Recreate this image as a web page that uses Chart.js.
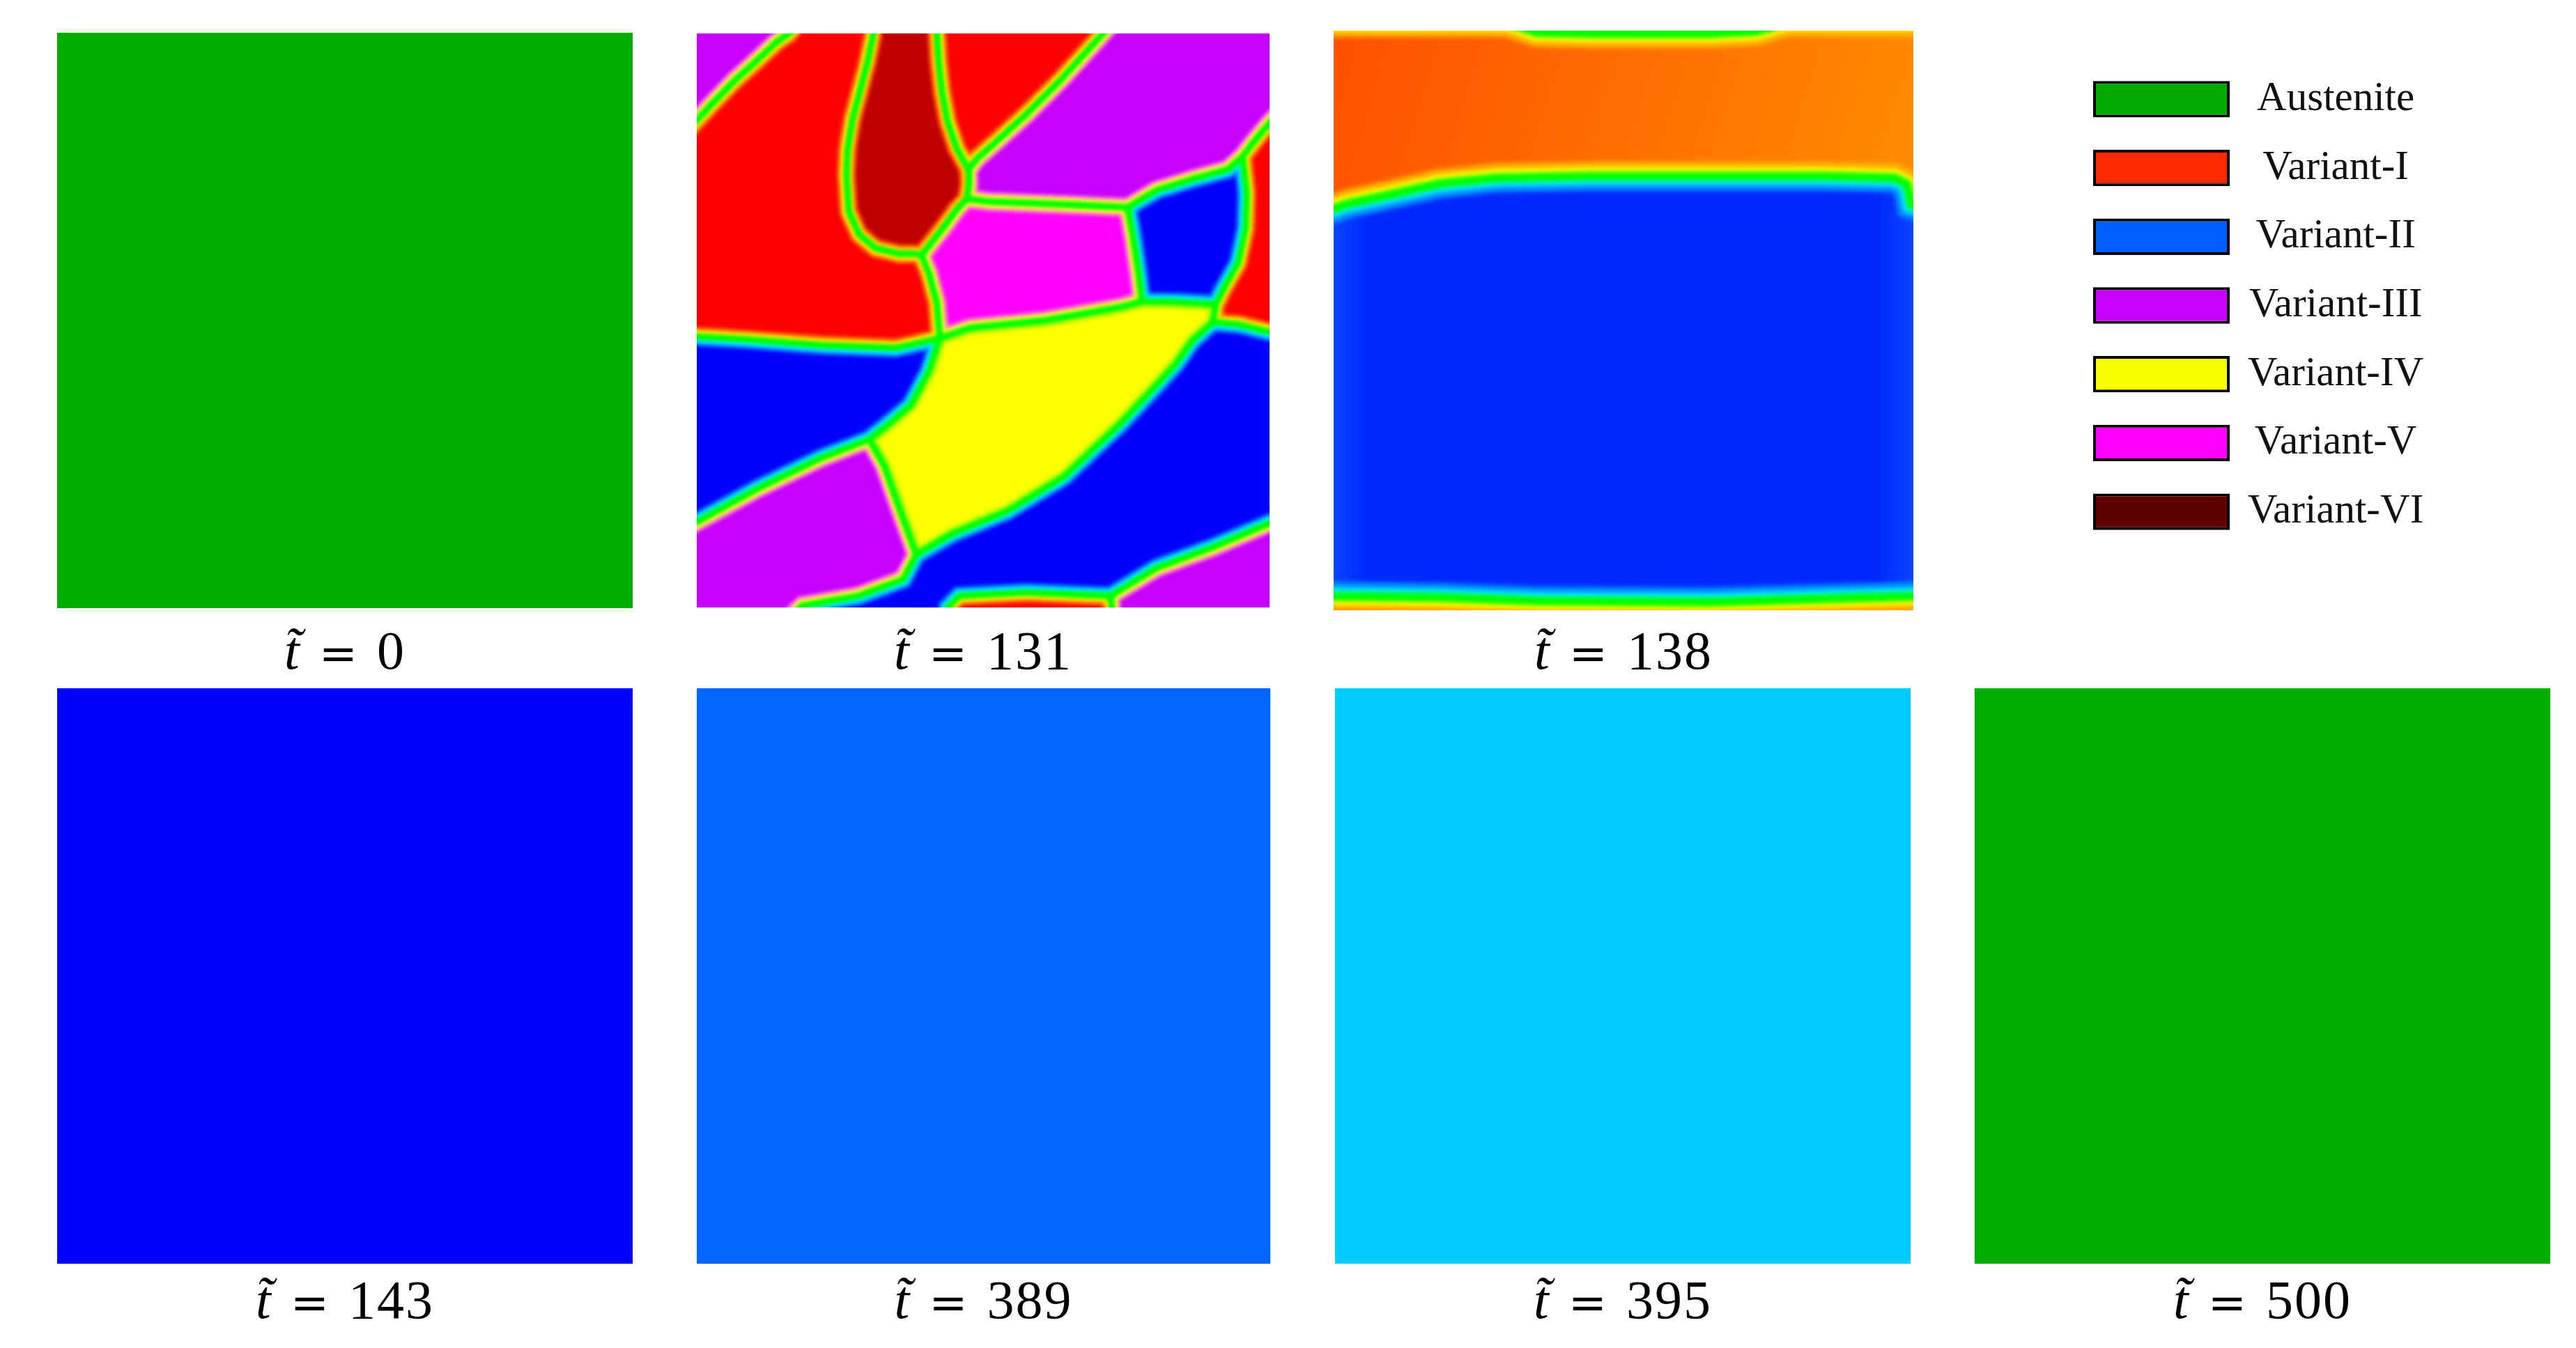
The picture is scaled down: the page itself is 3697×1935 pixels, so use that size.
<!DOCTYPE html>
<html><head><meta charset="utf-8">
<script src="https://cdn.jsdelivr.net/npm/chart.js@4.4.1/dist/chart.umd.min.js"></script>
<style>
html,body{margin:0;padding:0;background:#fff;}
body{width:3697px;height:1935px;position:relative;overflow:hidden;}
canvas{position:absolute;}
.lbl{position:absolute;width:600px;text-align:center;font-family:'Liberation Serif','Times New Roman',serif;font-size:78px;line-height:78px;color:#000;white-space:nowrap;}
.lbl i{font-style:italic;}
.lbl .eq{font-family:'DejaVu Serif',serif;font-size:66px;margin:0 28px;}
.lbl .num{letter-spacing:2px;}
</style></head><body>
<script>
// ---------------- data ----------------
const snapshotTimes = [0, 131, 138, 143, 389, 395, 500];
const phaseNames = ['Austenite','Variant-I','Variant-II','Variant-III','Variant-IV','Variant-V','Variant-VI'];
const legendBarExtent = [1, 1, 1, 1, 1, 1, 1];

// snapshots where one phase fills the whole domain
const uniformTimes = [0, 143, 389, 395, 500];

// domain corners (grid units 0..100, slightly outside the box)
const TL = [-3,-3], TR = [103,-3], BR = [103,103], BL = [-3,103];

// t = 131 : grain boundaries (centre lines, grid units, y downward)
const b131_DE = [[18.5,-3],[16.1,0],[13.8,1.6],[10.6,4.6],[6.6,8.2],[2.7,12.2],[0,15.1],[-3,18.3]];
const b131_AI = [[31.1,-3],[30.8,0],[29.8,4.9],[28.6,9.5],[27.2,14.8],[26.3,20.1],[26.1,24.7],[26.5,31.0],[28.3,35.0],[31.2,37.4],[35.3,38.4],[37.9,38.4],[39.2,38.6]];
const b131_BF = [[41.8,-3],[41.9,0],[42.2,4.9],[42.8,10.2],[43.8,15.5],[45.4,20.1],[47.4,23.7]];
const b131_CF = [[73.6,-3],[70.9,0],[67.9,3.3],[63.4,8.2],[57.5,14.1],[52.3,18.8],[49.0,21.7],[47.4,23.7]];
const b131_FH = [[47.4,23.7],[47.5,26.3],[47.1,28.8]];
const b131_HI = [[47.1,28.8],[45.4,30.6],[43.2,33.6],[40.9,36.5],[39.2,38.6]];
const b131_HM = [[47.1,28.8],[51.0,29.3],[64.0,29.8],[75.2,30.3]];
const b131_IK = [[39.2,38.6],[40.5,41.8],[41.9,47.0],[42.4,53.1]];
const b131_XK = [[-3,52.7],[0,52.8],[8.6,53.3],[21.6,54.3],[34.7,54.8],[42.4,53.1]];
const b131_KP = [[42.4,53.1],[47.7,51.3],[60.8,50.0],[73.8,47.7],[77.7,46.7]];
const b131_MP = [[75.2,30.3],[76.1,35.2],[77.1,41.8],[77.7,46.7]];
const b131_MN = [[75.2,30.3],[80.3,27.3],[86.8,25.3],[92.7,23.7],[95.3,21.4]];
const b131_NE = [[95.3,21.4],[97.3,18.8],[100,15.6],[103,12.5]];
const b131_NQ = [[95.3,21.4],[96.0,27.9],[95.8,34.0],[94.5,40.0],[92.0,44.4],[90.6,47.2]];
const b131_PQ = [[77.7,46.7],[83.6,46.8],[90.6,47.2]];
const b131_QR = [[90.6,47.2],[90.1,50.3]];
const b131_RS = [[90.1,50.3],[94.7,50.7],[100,52.0],[103,52.5]];
const b131_KU = [[42.4,53.1],[40.5,58.9],[37.3,64.8],[33.4,68.1],[30.1,70.7]];
const b131_UW = [[30.1,70.7],[21.6,74.0],[10.6,79.3],[0,85.1],[-3,86.6]];
const b131_UV = [[30.1,70.7],[32.7,75.3],[35.3,82.6],[38.3,90.8]];
const b131_RV = [[90.1,50.3],[86.5,53.5],[83.6,57.6],[78.8,62.8],[73.8,68.1],[64.0,77.3],[54.2,83.2],[44.5,87.2],[38.3,90.8]];
const b131_VB = [[38.3,90.8],[36.0,95.1],[28.2,98.0],[18.4,99.7],[15,103]];
const b131_BY = [[43.5,103],[43.8,100],[45.8,98.0],[57.5,97.4],[72.2,98.0]];
const b131_YB = [[72.2,98.0],[72.8,103]];
const b131_YR = [[72.2,98.0],[80.3,93.1],[90.1,89.5],[100,85.3],[103,84]];

// t = 138 : interfaces
const b138_top = [[-3,-1.4],[30,-1.4],[35,0.3],[45,0.5],[65,0.5],[73,0.1],[78,-1.4],[103,-1.4]];
const b138_mid = [[-3,31.0],[0,30.7],[2.3,29.9],[8.3,28.6],[18.2,26.4],[28.1,25.4],[44.6,25.1],[64.4,25.1],[84.2,25.1],[96.7,25.4],[98.9,26.5],[99.6,30.0],[103,31.0]];
const b138_bot = [[-3,97.6],[0,97.6],[18,97.8],[35,98.4],[65,98.6],[85,98.0],[100,97.6],[103,97.6]];

// ---------------- styles / layout ----------------
const legendColors = ['#00aa00','#ff2a00','#005fff','#c800ff','#f5ff00','#ff00ff','#600000'];
const uniformColors = ['#00ae00','#0000ff','#0066ff','#00ccff','#00ae00'];
const panelLeft = [82, 1000, 1914, 82, 1000, 1916, 2834];
const panelTop  = [47, 48, 44, 988, 988, 988, 988];
const panelW    = [826, 822, 832, 826, 823, 826, 826];
const panelH    = [826, 824, 832, 826, 826, 826, 826];
const labelBaseline = [960, 960, 960, 1892, 1892, 1892, 1892];

// field colour map for the microstructure snapshots: [core, inner halo, outer halo]
const field131 = {
  'Variant-I':   ['#ff0000','#ff7a00','#ffee00'],
  'Variant-II':  ['#0000ff','#0088ff','#00f0ff'],
  'Variant-III': ['#c800ff','#ff88c8','#f4ff20'],
  'Variant-IV':  ['#ffff00','#f0ff00','#b0ff00'],
  'Variant-V':   ['#ff00ff','#ff8ab8','#f4ff20'],
  'Variant-VI':  ['#c00000','#ff5a00','#ffd800']
};

function fw(e){ return e; }
function bw(e){ return e.slice().reverse(); }

const grains131 = [
  ['Variant-III', [[TL], fw(b131_DE)]],
  ['Variant-I',   [bw(b131_DE), fw(b131_AI), fw(b131_IK), bw(b131_XK)]],
  ['Variant-VI',  [bw(b131_AI), fw(b131_BF), fw(b131_FH), fw(b131_HI)]],
  ['Variant-I',   [bw(b131_BF), fw(b131_CF)]],
  ['Variant-III', [bw(b131_CF), [TR], bw(b131_NE), bw(b131_MN), bw(b131_HM), bw(b131_FH)]],
  ['Variant-V',   [fw(b131_HM), fw(b131_MP), bw(b131_KP), bw(b131_IK), bw(b131_HI)]],
  ['Variant-II',  [fw(b131_MN), fw(b131_NQ), bw(b131_PQ), bw(b131_MP)]],
  ['Variant-I',   [fw(b131_NE), bw(b131_RS), bw(b131_QR), bw(b131_NQ)]],
  ['Variant-IV',  [fw(b131_KP), fw(b131_PQ), fw(b131_QR), fw(b131_RV), bw(b131_UV), bw(b131_KU)]],
  ['Variant-II',  [fw(b131_XK), fw(b131_KU), fw(b131_UW)]],
  ['Variant-III', [bw(b131_UW), fw(b131_UV), fw(b131_VB), [BL]]],
  ['Variant-II',  [fw(b131_RS), bw(b131_YR), bw(b131_BY), bw(b131_VB), bw(b131_RV)]],
  ['Variant-III', [fw(b131_YR), [BR], bw(b131_YB)]],
  ['Variant-I',   [fw(b131_BY), fw(b131_YB)]]
];

const grains138 = [
  ['Variant-I',  [fw(b138_top), bw(b138_mid)]],
  ['Variant-II', [fw(b138_mid), bw(b138_bot)]],
  ['Variant-I',  [fw(b138_bot), [BR, BL]]]
];

function orange138(ctx){
  const a = ctx.chart.chartArea; if (!a) return '#ff7000';
  const g = ctx.chart.ctx.createLinearGradient(a.left, a.top, a.right, a.top + (a.bottom-a.top)*0.3);
  g.addColorStop(0, '#ff5000'); g.addColorStop(0.5, '#ff6e00'); g.addColorStop(1, '#ff8c00');
  return g;
}
function blue138(ctx){
  const a = ctx.chart.chartArea; if (!a) return '#0024ff';
  const g = ctx.chart.ctx.createLinearGradient(a.left, 0, a.right, 0);
  g.addColorStop(0, '#0a44ff'); g.addColorStop(0.06, '#0028ff'); g.addColorStop(0.94, '#0028ff'); g.addColorStop(1, '#0a44ff');
  return g;
}
const field138 = {
  'Variant-I':  [orange138, '#ffb000', '#ffff00'],
  'Variant-II': [blue138, '#0090ff', '#00f0ff']
};

// ---------------- helpers ----------------
function buildPolygon(parts){
  const pts = [];
  parts.forEach(p => p.forEach(q => {
    const last = pts[pts.length-1];
    if (!last || Math.hypot(last[0]-q[0], last[1]-q[1]) > 1e-6) pts.push(q);
  }));
  const f = pts[0], l = pts[pts.length-1];
  if (Math.hypot(f[0]-l[0], f[1]-l[1]) < 1e-6) pts.pop();
  return pts;
}
function inset(poly, d){
  const n = poly.length; let area = 0;
  for (let i=0;i<n;i++){ const a=poly[i], b=poly[(i+1)%n]; area += a[0]*b[1]-b[0]*a[1]; }
  const s = area > 0 ? 1 : -1;
  const out = [];
  for (let i=0;i<n;i++){
    const p0=poly[(i-1+n)%n], p1=poly[i], p2=poly[(i+1)%n];
    let d1x=p1[0]-p0[0], d1y=p1[1]-p0[1]; const l1=Math.hypot(d1x,d1y); d1x/=l1; d1y/=l1;
    let d2x=p2[0]-p1[0], d2y=p2[1]-p1[1]; const l2=Math.hypot(d2x,d2y); d2x/=l2; d2y/=l2;
    const n1x=-d1y*s, n1y=d1x*s, n2x=-d2y*s, n2y=d2x*s;
    const k = Math.max(1 + n1x*n2x + n1y*n2y, 0.35);
    out.push([p1[0] + d*(n1x+n2x)/k, p1[1] + d*(n1y+n2y)/k]);
  }
  return out;
}
function polyDataset(pts, color){
  return { data: pts.map(p => ({x:p[0], y:p[1]})), showLine:true, fill:'shape',
    backgroundColor: color, borderColor:'rgba(0,0,0,0)', borderWidth:0,
    pointRadius:0, pointHoverRadius:0, tension:0 };
}
const softField = {
  id:'softField',
  beforeDatasetsDraw(chart, args, opts){ chart.ctx.save(); if (opts.blur) chart.ctx.filter = 'blur(' + opts.blur + 'px)'; },
  afterDatasetsDraw(chart){ chart.ctx.restore(); }
};
function makeCanvas(left, top, w, h){
  const cv = document.createElement('canvas');
  cv.width = w; cv.height = h;
  cv.style.left = left+'px'; cv.style.top = top+'px';
  cv.style.width = w+'px'; cv.style.height = h+'px';
  document.body.appendChild(cv);
  return cv;
}
function fieldChart(idx, datasets, blur){
  datasets.forEach((d,i) => { d.order = -i; });
  const cv = makeCanvas(panelLeft[idx], panelTop[idx], panelW[idx], panelH[idx]);
  return new Chart(cv, {
    type:'scatter',
    data:{ datasets },
    options:{ responsive:false, animation:false, devicePixelRatio:1, events:[],
      layout:{padding:0},
      plugins:{ legend:{display:false}, tooltip:{enabled:false}, softField:{blur} },
      scales:{ x:{type:'linear', min:0, max:100, display:false},
               y:{type:'linear', min:0, max:100, reverse:true, display:false} } },
    plugins:[softField]
  });
}
function grainDatasets(grains, style, g, h1, h2){
  const ds = [polyDataset([TL,TR,BR,BL], '#00ff00')];
  grains.forEach(([phase, parts]) => {
    const poly = buildPolygon(parts);
    const c = style[phase];
    ds.push(polyDataset(inset(poly, g), c[2]));
    ds.push(polyDataset(inset(poly, g+h1), c[1]));
    ds.push(polyDataset(inset(poly, g+h1+h2), c[0]));
  });
  return ds;
}

// ---------------- panels ----------------
snapshotTimes.forEach((t, idx) => {
  const u = uniformTimes.indexOf(t);
  if (u >= 0) {
    fieldChart(idx, [polyDataset([TL,TR,BR,BL], uniformColors[u])], 0);
  } else if (t === 131) {
    fieldChart(idx, grainDatasets(grains131, field131, 0.6, 0.5, 0.55), 2.8);
  } else if (t === 138) {
    fieldChart(idx, grainDatasets(grains138, field138, 0.8, 0.7, 1.0), 3);
  }
  const lab = document.createElement('div');
  lab.className = 'lbl';
  lab.style.left = (panelLeft[idx] + panelW[idx]/2 - 300) + 'px';
  lab.style.top = (labelBaseline[idx] - 65) + 'px';
  lab.innerHTML = '<i>t&#x303;</i><span class="eq">=</span><span class="num">' + t + '</span>';
  document.body.appendChild(lab);
});

// ---------------- legend ----------------
const lcv = makeCanvas(3004, 93, 496, 691);
new Chart(lcv, {
  type:'bar',
  data:{ labels: phaseNames, datasets:[{ data: legendBarExtent, backgroundColor: legendColors,
    borderColor:'#000', borderWidth:4, borderSkipped:false, barPercentage:0.53, categoryPercentage:1 }] },
  options:{ indexAxis:'y', responsive:false, animation:false, devicePixelRatio:1, events:[],
    layout:{padding:0},
    plugins:{ legend:{display:false}, tooltip:{enabled:false} },
    scales:{
      x:{ display:false, min:0, max:1 },
      y:{ position:'right', grid:{display:false, drawTicks:false}, border:{display:false},
          ticks:{ color:'#111', font:{ family:"'Liberation Serif', 'Times New Roman', serif", size:59 }, crossAlign:'center', padding:26 },
          afterFit:(s) => { s.width = 300; s.paddingTop = 0; s.paddingBottom = 0; } }
    } }
});
</script>
</body></html>
